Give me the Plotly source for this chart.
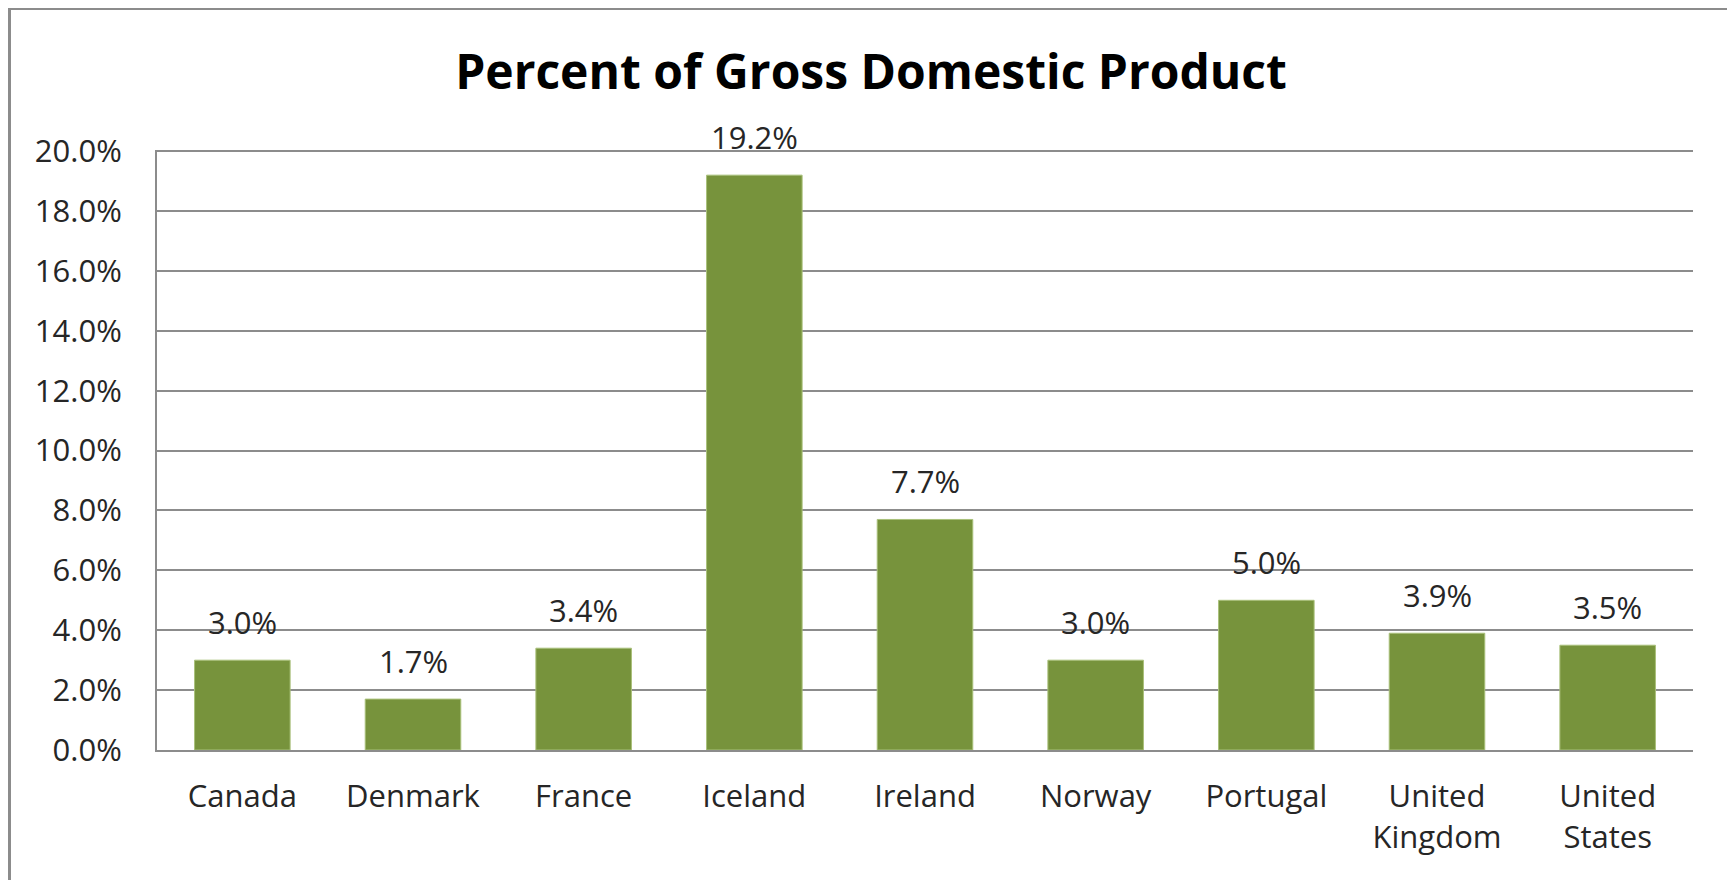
import plotly.graph_objects as go

countries = ["Canada", "Denmark", "France", "Iceland", "Ireland", "Norway", "Portugal", "United<br>Kingdom", "United<br>States"]
gdp_pct = [3.0, 1.7, 3.4, 19.2, 7.7, 3.0, 5.0, 3.9, 3.5]
y_ticks = [0, 2, 4, 6, 8, 10, 12, 14, 16, 18, 20]
y_tick_labels = [f"{v:.1f}%" for v in y_ticks]
title_text = "Percent of Gross Domestic Product"

# page body has an 8px margin; figure size compensates
OFF = 8
W, H = 1735 - OFF, 880 - OFF
L, R, T, B = 157 - OFF, 42, 150 - OFF, 130
pw, ph = W - L - R, H - T - B

FONT = "Open Sans"
TXT = "#262626"

fig = go.Figure()
fig.add_trace(go.Bar(
    x=countries, y=gdp_pct,
    marker=dict(color="#77933C", line=dict(color="#A9C07A", width=1)),
    hoverinfo="skip",
))

for c, v in zip(countries, gdp_pct):
    fig.add_annotation(x=c, y=v, text=f"{v:.1f}%", showarrow=False,
                       yanchor="middle", yshift=38,
                       font=dict(family=FONT, size=31, color=TXT))

# outer chart border (figure pixel -> paper coords)
def px_x(p):
    return (p - L) / pw

def px_y(p):
    return (H - B - p) / ph

fig.add_shape(type="rect", xref="paper", yref="paper",
              x0=px_x(1.5), x1=px_x(1724), y0=px_y(H + 30), y1=px_y(0.5),
              line=dict(color="#8C8C8C", width=3), fillcolor="rgba(0,0,0,0)", layer="below")

fig.update_layout(
    width=W, height=H,
    margin=dict(l=L, r=R, t=T, b=B, pad=0),
    paper_bgcolor="white", plot_bgcolor="white",
    bargap=0.44,
    showlegend=False,
    title=dict(text=f"<b>{title_text}</b>", x=(871 - OFF) / W, xanchor="center",
               y=1 - (72 - OFF) / H, yanchor="middle", yref="container",
               font=dict(family=FONT, size=48, color="black")),
    font=dict(family=FONT, size=31, color=TXT),
)
fig.update_xaxes(showline=True, linecolor="#8C8C8C", linewidth=2, ticks="",
                 tickfont=dict(family=FONT, size=31, color=TXT),
                 ticklabelstandoff=18, showgrid=False)
fig.update_yaxes(range=[0, 20.04], tickvals=y_ticks, ticktext=y_tick_labels,
                 showgrid=True, gridcolor="#8C8C8C", gridwidth=1.5,
                 showline=True, linecolor="#8C8C8C", linewidth=2, ticks="",
                 zeroline=False, ticklabelstandoff=27,
                 tickfont=dict(family=FONT, size=31, color=TXT))

fig.write_html("out.html")
